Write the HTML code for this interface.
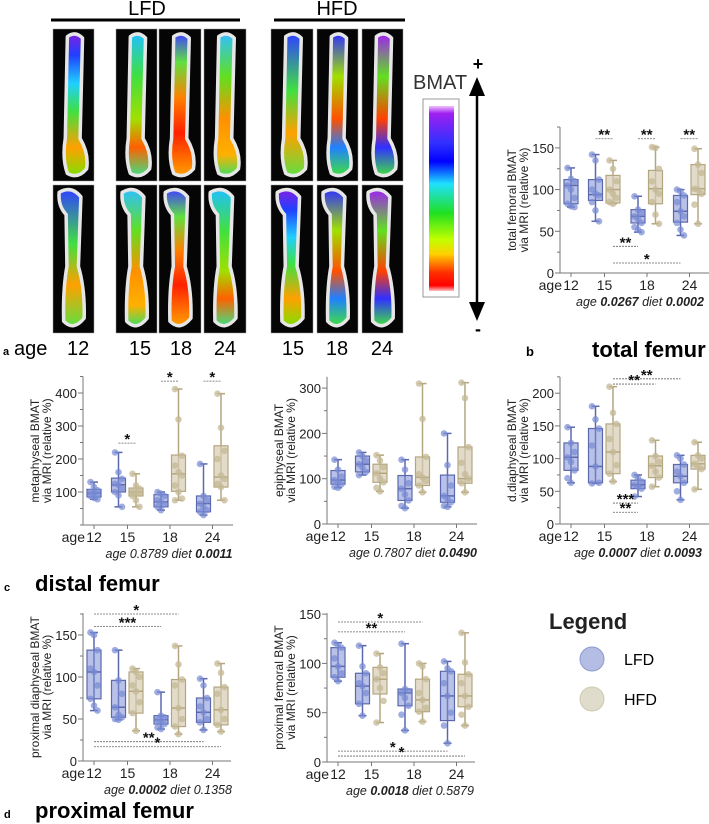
<!DOCTYPE html>
<html><head><meta charset="utf-8">
<style>
html,body{margin:0;padding:0;background:#fff;}
svg{display:block;font-family:"Liberation Sans",sans-serif;}
</style></head>
<body>
<svg id="fig" width="709" height="824" viewBox="0 0 709 824" xmlns="http://www.w3.org/2000/svg">
<defs>
<linearGradient id="cbar" x1="0" y1="0" x2="0" y2="1">
<stop offset="0" stop-color="#f0c0ff"/><stop offset="0.04" stop-color="#a020f0"/><stop offset="0.2" stop-color="#3030ff"/><stop offset="0.3" stop-color="#0000ff"/><stop offset="0.42" stop-color="#20e0ff"/><stop offset="0.58" stop-color="#20e020"/><stop offset="0.72" stop-color="#c0ff00"/><stop offset="0.8" stop-color="#ffd000"/><stop offset="0.9" stop-color="#ff3000"/><stop offset="0.97" stop-color="#ff0000"/><stop offset="1" stop-color="#ffc0c0"/>
</linearGradient>
<linearGradient id="g1" x1="0" y1="0" x2="0" y2="1"><stop offset="0" stop-color="#8020e0"/><stop offset="0.15" stop-color="#2040ff"/><stop offset="0.35" stop-color="#20d0ff"/><stop offset="0.55" stop-color="#40e040"/><stop offset="0.8" stop-color="#ffa000"/><stop offset="1" stop-color="#80e000"/></linearGradient>
<linearGradient id="g2" x1="0" y1="0" x2="0" y2="1"><stop offset="0" stop-color="#20c0ff"/><stop offset="0.3" stop-color="#40e040"/><stop offset="0.6" stop-color="#a0e000"/><stop offset="0.8" stop-color="#ff6000"/><stop offset="1" stop-color="#40e080"/></linearGradient>
<linearGradient id="g3" x1="0" y1="0" x2="0" y2="1"><stop offset="0" stop-color="#4040ff"/><stop offset="0.2" stop-color="#60e040"/><stop offset="0.45" stop-color="#ff8000"/><stop offset="0.7" stop-color="#ff2000"/><stop offset="1" stop-color="#ffa000"/></linearGradient>
<linearGradient id="g4" x1="0" y1="0" x2="0" y2="1"><stop offset="0" stop-color="#30c0ff"/><stop offset="0.3" stop-color="#60e020"/><stop offset="0.6" stop-color="#ff9000"/><stop offset="0.85" stop-color="#ffb000"/><stop offset="1" stop-color="#40e060"/></linearGradient>
<linearGradient id="g5" x1="0" y1="0" x2="0" y2="1"><stop offset="0" stop-color="#3040ff"/><stop offset="0.4" stop-color="#40e040"/><stop offset="0.7" stop-color="#ffa000"/><stop offset="1" stop-color="#60e040"/></linearGradient>
<linearGradient id="g6" x1="0" y1="0" x2="0" y2="1"><stop offset="0" stop-color="#3030ff"/><stop offset="0.3" stop-color="#a0e000"/><stop offset="0.6" stop-color="#ff5000"/><stop offset="0.8" stop-color="#2080ff"/><stop offset="1" stop-color="#40e040"/></linearGradient>
<linearGradient id="g7" x1="0" y1="0" x2="0" y2="1"><stop offset="0" stop-color="#a020f0"/><stop offset="0.3" stop-color="#60e020"/><stop offset="0.6" stop-color="#ff4000"/><stop offset="0.8" stop-color="#3030ff"/><stop offset="1" stop-color="#40e040"/></linearGradient>
</defs>
<g id="images"></g>
<g id="charts"></g>
</svg>
<script>
// shared group structure: category index and diet (0=LFD,1=HFD) per box
const categories = ['12','15','18','24'];
const groupCat = [0,1,1,2,2,3,3];
const groupDiet = [0,0,1,0,1,0,1];

// ---- chart b: total femur ----
const bStats = [[79,83,105,112,126],[62,87,94,112,142],[83,84,100,117,135],[49,60,68,76,92],[59,83,101,123,151],[45,61,74,93,100],[59,94,101,130,149]];
const bPts = [[126,113,110,105,100,90,83,80,79],[142,135,112,100,95,93,85,75,62],[135,125,110,100,95,90,85,83],[92,76,72,68,65,60,55,52,49],[151,150,125,110,100,95,85,70,59],[100,98,93,85,74,68,60,52,45],[149,130,120,101,100,95,82,59]];
const bSigFrom = [1,3,5,2,2];
const bSigTo = [2,4,6,3,5];
const bSigValue = [161,161,161,32,12];
const bSigText = ['**','**','**','**','*'];
const bTicks = [0,50,100,150];

// ---- chart c1: metaphyseal ----
const c1Stats = [[78,85,97,108,130],[55,100,122,142,220],[55,88,100,112,155],[45,55,70,92,100],[75,102,155,212,412],[30,40,65,88,185],[75,115,145,240,398]];
const c1Pts = [[130,115,105,100,97,92,88,82,78],[220,160,140,125,122,110,100,90,55],[155,120,110,100,98,95,88,75,55],[100,95,88,75,70,62,55,45],[412,320,210,180,160,150,120,100,80,75],[185,88,75,65,55,45,40,30],[398,295,225,200,150,140,125,115,75]];
const c1SigFrom = [1,3,5];
const c1SigTo = [2,4,6];
const c1SigValue = [248,436,436];
const c1SigText = ['*','*','*'];
const c1Ticks = [100,200,300,400];

// ---- chart c2: epiphyseal ----
const c2Stats = [[80,88,97,118,142],[108,115,132,150,158],[72,92,112,132,152],[35,52,78,107,142],[70,85,103,148,310],[38,48,62,108,200],[70,90,100,170,312]];
const c2Pts = [[142,120,105,97,92,88,82,80],[158,150,140,132,125,115,108],[152,140,125,112,100,92,80,72],[142,120,90,78,65,52,40,35],[310,232,148,110,103,95,85,70],[200,130,85,62,55,48,40,38],[312,278,170,135,110,100,90,70]];
const c2SigFrom = [];
const c2SigTo = [];
const c2SigValue = [];
const c2SigText = [];
const c2Ticks = [0,100,200,300];

// ---- chart c3: d.diaphyseal ----
const c3Stats = [[63,82,102,124,148],[62,63,88,146,180],[65,77,110,153,210],[42,54,60,67,75],[57,71,89,104,128],[37,63,73,91,105],[53,84,92,105,125]];
const c3Pts = [[148,124,110,102,95,82,70,63],[180,160,146,120,88,63,62],[210,170,153,130,110,90,77,65],[75,70,65,60,57,54,42],[128,104,95,89,80,71,57],[105,100,91,80,73,63,50,37],[125,105,100,92,88,84,53]];
const c3SigFrom = [2,2,2,2];
const c3SigTo = [5,4,3,3];
const c3SigValue = [222,214,32,18];
const c3SigText = ['**','**','***','**'];
const c3Ticks = [0,50,100,150,200];

// ---- chart d1: proximal diaphyseal ----
const d1Stats = [[60,74,106,132,153],[49,52,64,96,132],[36,57,83,106,110],[38,44,49,54,82],[32,41,63,97,137],[37,46,58,75,98],[35,43,61,88,116]];
const d1Pts = [[153,150,132,110,106,90,74,66,60],[132,96,80,64,55,52,50,49],[110,106,100,90,83,70,57,36],[82,54,52,49,46,44,40,38],[137,115,97,90,63,50,41,32],[98,90,75,65,58,50,46,37],[116,105,88,80,61,50,43,35]];
const d1SigFrom = [0,0,0,0];
const d1SigTo = [4,3,5,6];
const d1SigValue = [175,160,23,17];
const d1SigText = ['*','***','**','*'];
const d1Ticks = [0,50,100,150];

// ---- chart d2: proximal femoral ----
const d2Stats = [[82,86,97,116,121],[47,59,77,90,118],[40,69,84,96,110],[32,57,70,74,120],[41,51,63,84,100],[19,42,67,92,102],[37,56,67,89,131]];
const d2Pts = [[121,118,116,105,97,90,86,82],[118,97,90,80,77,70,59,47],[110,96,90,84,75,62,40],[120,74,72,70,65,57,48,32],[100,97,84,70,63,55,51,41],[102,95,92,80,67,50,37,19],[131,101,89,80,67,56,48,37]];
const d2SigFrom = [0,0,0,0];
const d2SigTo = [4,3,5,6];
const d2SigValue = [142,132,11,6];
const d2SigText = ['*','**','*','*'];
const d2Ticks = [0,50,100,150];

const NS = 'http://www.w3.org/2000/svg';
function mk(parent, tag, attrs, text) {
  const e = document.createElementNS(NS, tag);
  for (const k in attrs) e.setAttribute(k, attrs[k]);
  if (text !== undefined) e.textContent = text;
  parent.appendChild(e);
  return e;
}
const LCOL = {fill:'rgba(125,142,212,0.55)', stroke:'#5b68ad', pt:'rgba(120,138,212,0.7)'};
const HCOL = {fill:'rgba(214,204,178,0.7)', stroke:'#b3a67f', pt:'rgba(196,184,150,0.75)'};

function drawChart(name, cfg, stats, pts, sFrom, sTo, sVal, sText, ticks) {
  const root = document.getElementById('charts');
  const g = mk(root, 'g', {});
  
  
  const ax = cfg.ax, y0 = cfg.y0, k = cfg.k;
  const y = v => y0 - v * k;
  const xL = c => ax + 11 + (c === 0 ? 0 : 24.5 + (c - 1) * 42.5);
  const xg = i => xL(groupCat[i]) + groupDiet[i] * 17.5;
  const xCat = c => c === 0 ? xL(0) : xL(c) + 9;
  const yAxis = mk(g, 'line', {x1:ax, y1:y0, x2:ax, y2:y(cfg.top), stroke:'#777', 'stroke-width':1});
  
  
  const xAxis = mk(g, 'line', {x1:ax, y1:y0, x2:ax + cfg.xw, y2:y0, stroke:'#777', 'stroke-width':1});
  
  
  const step = ticks[1] - ticks[0];
  for (let v = 0; v <= cfg.top; v += step / 2) {
    const major = ticks.indexOf(v) >= 0;
    mk(g, 'line', {x1:ax - (major ? 5 : 3), y1:y(v), x2:ax, y2:y(v), stroke:'#777'});
  }
  ticks.forEach(t => {
    const tl = mk(g, 'text', {x:ax - 6, y:y(t) + 5, 'text-anchor':'end', 'font-size':13, fill:'#222'}, String(t));
    
    
  });
  categories.forEach((c, i) => {
    mk(g, 'line', {x1:xCat(i), y1:y0, x2:xCat(i), y2:y0 + 4, stroke:'#777'});
    const tl = mk(g, 'text', {x:xCat(i), y:y0 + 17, 'text-anchor':'middle', 'font-size':14, fill:'#222'}, c);
    
    
  });
  const ag = mk(g, 'text', {x:xCat(0) - 9, y:y0 + 17, 'text-anchor':'end', 'font-size':14, fill:'#222'}, 'age');
  
  
  const ymid = (y0 + y(cfg.top)) / 2;
  const yt = mk(g, 'text', {transform:`translate(${ax - 40},${ymid}) rotate(-90)`, 'text-anchor':'middle', 'font-size':12, fill:'#222'});
  
  
  mk(yt, 'tspan', {x:0, y:-4}, cfg.label);
  mk(yt, 'tspan', {x:0, y:8}, 'via MRI (relative %)');
  const st = mk(g, 'text', {x:ax + cfg.statX, y:y0 + 33, 'text-anchor':'middle', 'font-size':12.5, 'font-style':'italic', fill:'#222'});
  
  
  mk(st, 'tspan', {}, 'age ');
  mk(st, 'tspan', {'font-weight':cfg.ageBold ? 'bold' : 'normal'}, cfg.ageP);
  mk(st, 'tspan', {}, ' diet ');
  mk(st, 'tspan', {'font-weight':cfg.dietBold ? 'bold' : 'normal'}, cfg.dietP);
  const hw = 7;
  stats.forEach((s, i) => {
    const col = groupDiet[i] ? HCOL : LCOL;
    const x = xg(i);
    const bx = mk(g, 'g', {});
    
    
    mk(bx, 'line', {x1:x, y1:y(s[0]), x2:x, y2:y(s[4]), stroke:col.stroke, 'stroke-width':1.5});
    mk(bx, 'line', {x1:x - 4, y1:y(s[0]), x2:x + 4, y2:y(s[0]), stroke:col.stroke, 'stroke-width':1.5});
    mk(bx, 'line', {x1:x - 4, y1:y(s[4]), x2:x + 4, y2:y(s[4]), stroke:col.stroke, 'stroke-width':1.5});
    mk(bx, 'rect', {x:x - hw, y:y(s[3]), width:hw * 2, height:y(s[1]) - y(s[3]), fill:col.fill, stroke:col.stroke, 'stroke-width':1.2});
    mk(bx, 'line', {x1:x - hw, y1:y(s[2]), x2:x + hw, y2:y(s[2]), stroke:col.stroke, 'stroke-width':1.5});
    pts[i].forEach((v, j) => {
      const dot = mk(bx, 'circle', {cx:x + ((j % 3) - 1) * 3.5, cy:y(v), r:3.3, fill:col.pt});
      
      
    });
  });
  sFrom.forEach((f, i) => {
    const x1 = xg(f), x2 = xg(sTo[i]), yy = y(sVal[i]);
    const sg = mk(g, 'g', {});
    
    
    mk(sg, 'line', {x1:x1, y1:yy, x2:x2, y2:yy, stroke:'#666', 'stroke-width':0.8, 'stroke-dasharray':'2,1'});
    mk(sg, 'text', {x:(x1 + x2) / 2, y:yy + 1, 'text-anchor':'middle', 'font-size':15, 'font-weight':'bold', fill:'#111'}, sText[i]);
  });
}

drawChart('chart-total-femoral', {ax:560, y0:273, k:0.834, top:175, xw:149, label:'total femoral BMAT', statX:80, ageP:'0.0267', dietP:'0.0002', ageBold:true, dietBold:true}, bStats, bPts, bSigFrom, bSigTo, bSigValue, bSigText, bTicks);
drawChart('chart-metaphyseal', {ax:83, y0:525, k:0.33, top:450, xw:150, label:'metaphyseal BMAT', statX:86, ageP:'0.8789', dietP:'0.0011', ageBold:false, dietBold:true}, c1Stats, c1Pts, c1SigFrom, c1SigTo, c1SigValue, c1SigText, c1Ticks);
drawChart('chart-epiphyseal', {ax:327, y0:524, k:0.453, top:325, xw:150, label:'epiphyseal BMAT', statX:86, ageP:'0.7807', dietP:'0.0490', ageBold:false, dietBold:true}, c2Stats, c2Pts, c2SigFrom, c2SigTo, c2SigValue, c2SigText, c2Ticks);
drawChart('chart-d-diaphyseal', {ax:560, y0:524, k:0.654, top:225, xw:149, label:'d.diaphyseal BMAT', statX:78, ageP:'0.0007', dietP:'0.0093', ageBold:true, dietBold:true}, c3Stats, c3Pts, c3SigFrom, c3SigTo, c3SigValue, c3SigText, c3Ticks);
drawChart('chart-proximal-diaphyseal', {ax:83, y0:761, k:0.84, top:176, xw:148, label:'proximal diaphyseal BMAT', statX:85, ageP:'0.0002', dietP:'0.1358', ageBold:true, dietBold:false}, d1Stats, d1Pts, d1SigFrom, d1SigTo, d1SigValue, d1SigText, d1Ticks);
drawChart('chart-proximal-femoral', {ax:327, y0:762, k:0.986, top:151, xw:148, label:'proximal femoral BMAT', statX:83, ageP:'0.0018', dietP:'0.5879', ageBold:true, dietBold:false}, d2Stats, d2Pts, d2SigFrom, d2SigTo, d2SigValue, d2SigText, d2Ticks);

(function(){
  const img = document.getElementById('images');
  const cols = [[53,41],[116,41],[159,42],[204,42],[271,42],[317,41],[362,41]];
  const rows = [[29,152],[185,148]];
  const grads = [['g1','g2','g3','g4','g5','g6','g7'],['g5','g4','g3','g2','g1','g6','g7']];
  rows.forEach((r, ri) => {
    cols.forEach((c, ci) => {
      const pg = mk(img, 'g', {transform:`translate(${c[0]},${r[0]})`});
      
      
      const w = c[1], h = r[1];
      mk(pg, 'rect', {x:0, y:0, width:w, height:h, fill:'#050505', stroke:'#999', 'stroke-width':0.5});
      let d;
      if (ri === 0) d = `M${w*0.35} ${h*0.05} Q${w*0.55} ${h*0.01} ${w*0.72} ${h*0.06} L${w*0.66} ${h*0.72} Q${w*0.88} ${h*0.82} ${w*0.82} ${h*0.92} Q${w*0.6} ${h*0.99} ${w*0.35} ${h*0.95} Q${w*0.22} ${h*0.85} ${w*0.3} ${h*0.72} Z`;
      else d = `M${w*0.15} ${h*0.05} Q${w*0.45} ${h*0.0} ${w*0.68} ${h*0.08} L${w*0.62} ${h*0.55} Q${w*0.78} ${h*0.7} ${w*0.76} ${h*0.9} Q${w*0.5} ${h*0.99} ${w*0.26} ${h*0.92} Q${w*0.24} ${h*0.7} ${w*0.34} ${h*0.55} L${w*0.32} ${h*0.2} Q${w*0.12} ${h*0.14} ${w*0.15} ${h*0.05} Z`;
      mk(pg, 'path', {d:d, fill:'url(#' + grads[ri][ci] + ')', stroke:'#e6e6e6', 'stroke-width':3.5, 'stroke-linejoin':'round'});
    });
  });
})();
</script>
<script>
(function(){
  const svg = document.getElementById('fig');
  const NS = 'http://www.w3.org/2000/svg';
  const g = document.createElementNS(NS, 'g');
  g.innerHTML = `
  <line x1="51" y1="20" x2="240" y2="20" stroke="#000" stroke-width="3"/>
  <text x="147" y="15" text-anchor="middle" font-size="20">LFD</text>
  <line x1="274" y1="20" x2="405" y2="20" stroke="#000" stroke-width="3"/>
  <text x="337" y="15" text-anchor="middle" font-size="20">HFD</text>
  <rect x="423" y="99" width="36" height="198" fill="#fff" stroke="#999" stroke-width="1"/>
  <rect x="429" y="106" width="25" height="185" fill="url(#cbar)"/>
  <text x="413" y="89" font-size="20" fill="#333">BMAT</text>
  <line x1="477" y1="90" x2="477" y2="308" stroke="#000" stroke-width="2.5"/>
  <polygon points="469,96 485,96 477,77" fill="#000"/>
  <polygon points="469,302 485,302 477,321" fill="#000"/>
  <text x="478" y="70" text-anchor="middle" font-size="18" font-weight="bold">+</text>
  <text x="478" y="335" text-anchor="middle" font-size="18" font-weight="bold">-</text>
  <text x="3" y="355" font-size="11" font-weight="bold">a</text>
  <text x="14" y="355" font-size="20">age</text>
  <text x="67" y="355" font-size="20">12</text>
  <text x="140" y="355" text-anchor="middle" font-size="20">15</text>
  <text x="181" y="355" text-anchor="middle" font-size="20">18</text>
  <text x="225" y="355" text-anchor="middle" font-size="20">24</text>
  <text x="293" y="355" text-anchor="middle" font-size="20">15</text>
  <text x="337" y="355" text-anchor="middle" font-size="20">18</text>
  <text x="382" y="355" text-anchor="middle" font-size="20">24</text>
  <text x="526" y="356" font-size="13" font-weight="bold">b</text>
  <text x="592" y="357" font-size="22" font-weight="bold">total femur</text>
  <text x="4" y="591" font-size="11" font-weight="bold">c</text>
  <text x="35" y="591" font-size="22" font-weight="bold">distal femur</text>
  <text x="4" y="818" font-size="11" font-weight="bold">d</text>
  <text x="35" y="818" font-size="22" font-weight="bold">proximal femur</text>
  <text x="549" y="629" font-size="22" font-weight="bold" fill="#222">Legend</text>
  <circle cx="592" cy="659" r="12" fill="#b4bde3" stroke="#8d99cf"/>
  <text x="624" y="665" font-size="16">LFD</text>
  <circle cx="592" cy="699" r="12" fill="#e0dccb" stroke="#cfc8b0"/>
  <text x="624" y="705" font-size="16">HFD</text>`;
  svg.appendChild(g);
})();
</script>
</body></html>
